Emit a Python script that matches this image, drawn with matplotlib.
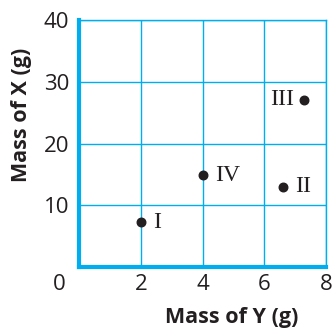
# Scatter of mass of X vs mass of Y for samples I-IV

import matplotlib.pyplot as plt

# data
labels = ['I', 'II', 'III', 'IV']
mass_y = [2.0, 6.6, 7.3, 4.0]
mass_x = [7.3, 13.0, 27.1, 14.9]
label_side = ['right', 'right', 'left', 'right']

xticks = [2, 4, 6, 8]
yticks = [10, 20, 30, 40]

blue = '#00AEEF'
ink = '#231F20'

fig = plt.figure(figsize=(3.35, 3.29), dpi=100)
ax = fig.add_axes([0.236, 0.188, 0.737, 0.751])

ax.set_xlim(0, 8)
ax.set_ylim(0, 40)
ax.set_xticks(xticks)
ax.set_yticks(yticks)
ax.grid(True, color=blue, linewidth=1.0)
ax.set_axisbelow(True)

for side in ['top', 'right']:
    ax.spines[side].set_color(blue)
    ax.spines[side].set_linewidth(1.0)
for side in ['left', 'bottom']:
    ax.spines[side].set_color(blue)
    ax.spines[side].set_linewidth(3.0)

ax.tick_params(length=0, labelsize=16, labelcolor=ink, pad=7,
               labelfontfamily='Open Sans')
ax.tick_params(axis='x', pad=5)

ax.scatter(mass_y, mass_x, s=38, color=ink, zorder=3, clip_on=False)

for lab, xv, yv, side in zip(labels, mass_y, mass_x, label_side):
    dx = 9 if side == 'right' else -7.5
    ax.annotate(lab, (xv, yv), xytext=(dx, 0), textcoords='offset points',
                ha='left' if side == 'right' else 'right', va='center',
                fontsize=17, family='Liberation Serif', color=ink)

# origin label sits off to the left of the corner
ax.annotate('0', (0, 0), xytext=(-14, -5), textcoords='offset points',
            ha='center', va='top', fontsize=16, family='Open Sans',
            color=ink, annotation_clip=False)

ax.set_xlabel('Mass of Y (g)', fontsize=15.5, fontweight='bold',
              family='Open Sans', color=ink)
ax.set_ylabel('Mass of X (g)', fontsize=15.5, fontweight='bold',
              family='Open Sans', color=ink)
ax.xaxis.set_label_coords(0.62, -0.16)
ax.yaxis.set_label_coords(-0.19, 0.615)

plt.savefig('out.png', dpi=100)
